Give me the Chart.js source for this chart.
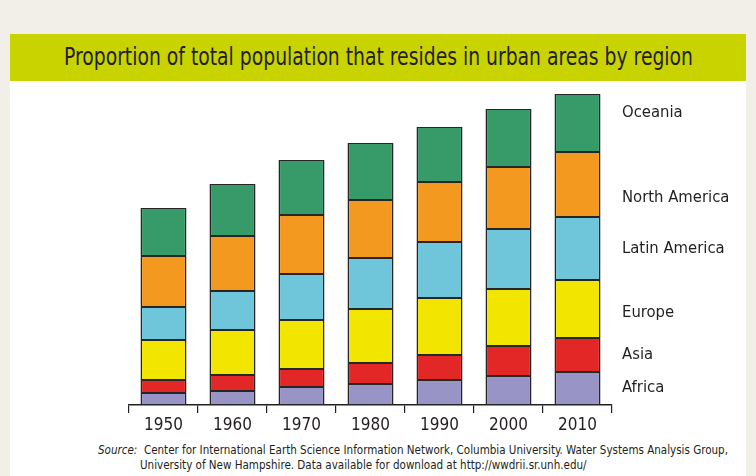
<!DOCTYPE html>
<html>
<head>
<meta charset="utf-8">
<script src="https://cdn.jsdelivr.net/npm/chart.js@4"></script>
<style>
  body { margin: 0; background: #f2efe8; width: 756px; height: 476px; overflow: hidden; position: relative; font-family: "Liberation Sans Narrow", "DejaVu Sans Condensed", "Liberation Sans", sans-serif; }
  #panel { position: absolute; left: 10px; top: 34px; width: 736px; height: 442px; background: #fff; }
  #band { position: absolute; left: 0; top: 0; width: 736px; height: 47px; background: #c9d300; }
  #titre { position: absolute; left: 54px; top: 9px; font-size: 24px; color: #231f20; white-space: nowrap; transform-origin: 0 0; }
  .fuente { position: absolute; font-size: 12.5px; color: #231f20; white-space: nowrap; transform-origin: 0 0; }
  #f1 { left: 88px; top: 408px; }
  #f2 { left: 130px; top: 423px; }
  canvas { position: absolute; left: 0; top: 0; }
</style>
</head>
<body>
<div id="panel">
  <div id="band"><span id="titre">Proportion of total population that resides in urban areas by region</span></div>
  <span class="fuente" id="f1"><i>Source:</i>&nbsp; Center for International Earth Science Information Network, Columbia University. Water Systems Analysis Group,</span>
  <span class="fuente" id="f2">University of New Hampshire. Data available for download at http://wwdrii.sr.unh.edu/</span>
</div>
<canvas id="graficoUrbano" width="756" height="476"></canvas>
<script>
// Datos (unidades relativas, sin eje Y)
const anios = ["1950", "1960", "1970", "1980", "1990", "2000", "2010"];
const africa = [12, 14, 18, 21, 25, 29, 33];
const asia = [13, 16, 18, 21, 25, 30, 34];
const europa = [40, 45, 49, 54, 57, 57, 58];
const latinoamerica = [33, 39, 46, 51, 56, 60, 63];
const norteamerica = [51, 55, 59, 58, 60, 62, 65];
const oceania = [48, 52, 55, 57, 55, 58, 58];
const regiones = ["Africa", "Asia", "Europe", "Latin America", "North America", "Oceania"];

const colores = ["#9894c6", "#e32726", "#f2e500", "#6fc5d9", "#f3991f", "#369b69"];
const ajusteEtiqueta = [-1, 0, 4, 0, 13, -10];
const fuenteEtiq = '"Liberation Sans Narrow", "DejaVu Sans Condensed", "Liberation Sans", sans-serif';

// comprimir textos html al ancho del original
function ajustarAncho(el, ancho) {
    const w = el.getBoundingClientRect().width;
    el.style.transform = "scaleX(" + (ancho / w) + ")";
    return ancho / w;
}
ajustarAncho(document.getElementById("titre"), 629);
const k = ajustarAncho(document.getElementById("f1"), 630);
document.getElementById("f2").style.transform = "scaleX(" + k + ")";

const etiquetasDerecha = {
    id: "etiquetasDerecha",
    afterDatasetsDraw(chart) {
        const ctx = chart.ctx;
        ctx.save();
        ctx.fillStyle = "#231f20";
        ctx.font = "16.5px " + fuenteEtiq;
        ctx.textBaseline = "middle";
        chart.data.datasets.forEach((ds, i) => {
            const meta = chart.getDatasetMeta(i);
            const bar = meta.data[meta.data.length - 1];
            const y = (bar.y + bar.base) / 2 + ajusteEtiqueta[i];
            ctx.fillText(ds.label, 622, y);
        });
        ctx.restore();
    },
};

const ctx = document.getElementById("graficoUrbano").getContext("2d");
new Chart(ctx, {
    type: "bar",
    data: {
        labels: anios,
        datasets: [africa, asia, europa, latinoamerica, norteamerica, oceania].map((d, i) => ({
            label: regiones[i],
            data: d,
            backgroundColor: colores[i],
            borderColor: "#262626",
            borderWidth: { left: 1.6, right: 1.6, top: 1, bottom: 1 },
            borderSkipped: false,
            barPercentage: 0.667,
            categoryPercentage: 1,
        })),
    },
    options: {
        responsive: false,
        animation: false,
        layout: { padding: { left: 129, right: 144, top: 75, bottom: 35 } },
        plugins: { legend: { display: false }, tooltip: { enabled: false } },
        scales: {
            x: {
                stacked: true,
                grid: { drawOnChartArea: false, color: "#231f20", tickLength: 8, lineWidth: 1.2 },
                border: { color: "#231f20", width: 1.5 },
                ticks: { color: "#231f20", font: { family: fuenteEtiq, size: 17 }, padding: 2 },
                afterFit(s) { s.height = 36; },
            },
            y: {
                stacked: true,
                display: false,
                min: 0,
                max: 330,
            },
        },
    },
    plugins: [etiquetasDerecha],
});
</script>
</body>
</html>
